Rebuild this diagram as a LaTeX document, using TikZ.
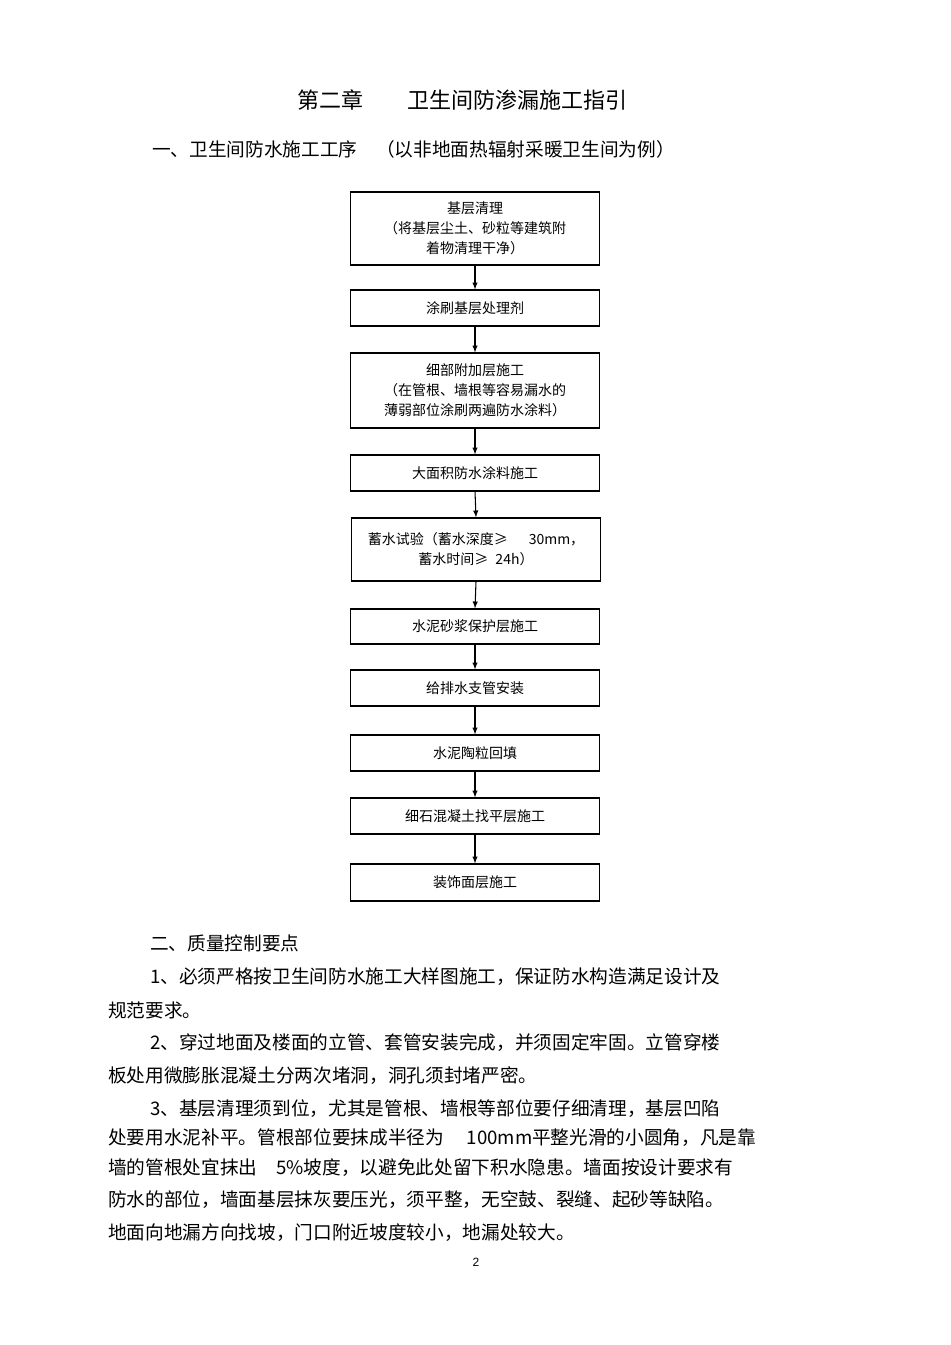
\documentclass[tikz,border=0pt]{standalone}
\usepackage{fontspec}
\setmainfont{Liberation Sans}
\newfontfamily\cjk{Noto Sans CJK SC}
\begin{document}
\begin{tikzpicture}[x=0.75pt,y=-0.75pt,
  stepbox/.style={draw,thick,minimum width=249*0.75pt,align=center,font=\cjk\fontsize{10.5}{15}\selectfont,inner sep=0pt},
  arr/.style={-latex,thick},
  body/.style={anchor=west,font=\cjk\fontsize{14}{16}\selectfont,inner sep=0pt}]
\useasboundingbox (0,0) rectangle (950,1345);
\node[font=\cjk\fontsize{16.5}{18}\selectfont] (title) at (462,100) {第二章\hspace{2em}卫生间防渗漏施工指引};
\node[body] (sub) at (152,149) {一、卫生间防水施工工序\hspace{1em}（以非地面热辐射采暖卫生间为例）};
\node[stepbox,minimum height=73*0.75pt] (b1) at (475,228.5) {基层清理\\（将基层尘土、砂粒等建筑附\\着物清理干净）};
\node[stepbox,minimum height=36*0.75pt] (b2) at (475,308) {涂刷基层处理剂};
\node[stepbox,minimum height=75*0.75pt] (b3) at (475,390.5) {细部附加层施工\\（在管根、墙根等容易漏水的\\薄弱部位涂刷两遍防水涂料）};
\node[stepbox,minimum height=36*0.75pt] (b4) at (475,473) {大面积防水涂料施工};
\node[stepbox,minimum height=63*0.75pt] (b5) at (476,549.5) {蓄水试验（蓄水深度≥\hspace{1.5em}30mm，\\蓄水时间≥\hspace{0.5em}24h）};
\node[stepbox,minimum height=35*0.75pt] (b6) at (475,626.5) {水泥砂浆保护层施工};
\node[stepbox,minimum height=36*0.75pt] (b7) at (475,688) {给排水支管安装};
\node[stepbox,minimum height=36*0.75pt] (b8) at (475,753) {水泥陶粒回填};
\node[stepbox,minimum height=36*0.75pt] (b9) at (475,816) {细石混凝土找平层施工};
\node[stepbox,minimum height=37*0.75pt] (b10) at (475,882.5) {装饰面层施工};
\foreach \a/\b in {b1/b2,b2/b3,b3/b4,b4/b5,b5/b6,b6/b7,b7/b8,b8/b9,b9/b10}
  \draw[arr] (\a.south -| 475,0) ++(0,0) coordinate (s) (\a.south) -- (\b.north);
\node[body] (t0) at (150,943) {二、质量控制要点};
\node[body] (t1) at (150,977) {1、必须严格按卫生间防水施工大样图施工，保证防水构造满足设计及};
\node[body] (t2) at (108,1010) {规范要求。};
\node[body] (t3) at (150,1043) {2、穿过地面及楼面的立管、套管安装完成，并须固定牢固。立管穿楼};
\node[body] (t4) at (108,1076) {板处用微膨胀混凝土分两次堵洞，洞孔须封堵严密。};
\node[body] (t5) at (150,1109) {3、基层清理须到位，尤其是管根、墙根等部位要仔细清理，基层凹陷};
\node[body] (t6) at (108,1138) {处要用水泥补平。管根部位要抹成半径为\hspace{1.2em}100mm平整光滑的小圆角，凡是靠};
\node[body] (t7) at (108,1168) {墙的管根处宜抹出\hspace{1em}5\%坡度，以避免此处留下积水隐患。墙面按设计要求有};
\node[body] (t8) at (108,1200) {防水的部位，墙面基层抹灰要压光，须平整，无空鼓、裂缝、起砂等缺陷。};
\node[body] (t9) at (108,1233) {地面向地漏方向找坡，门口附近坡度较小，地漏处较大。};
\node[font=\fontsize{9}{10}\selectfont] (pg) at (476,1262) {2};
\end{tikzpicture}
\end{document}
